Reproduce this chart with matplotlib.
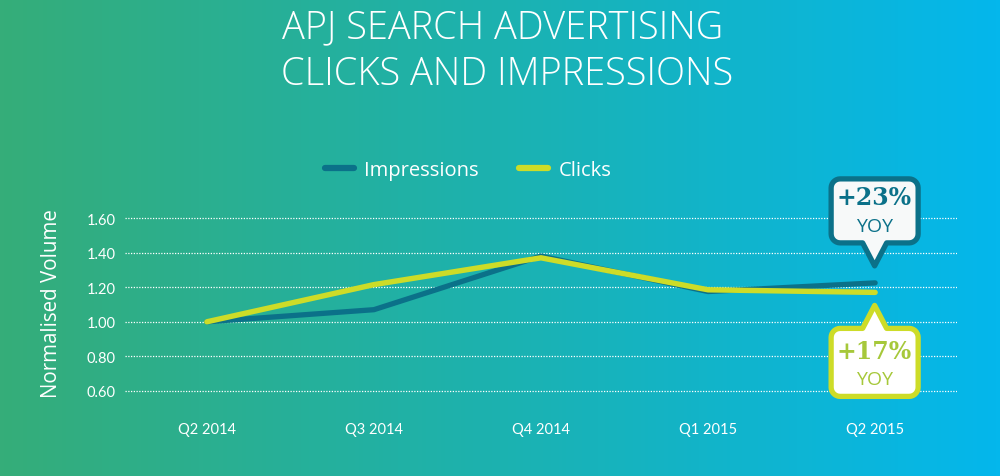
import numpy as np
import matplotlib
matplotlib.use("Agg")
import matplotlib.pyplot as plt
from matplotlib.colors import LinearSegmentedColormap
from matplotlib.patches import Polygon
from matplotlib.transforms import IdentityTransform

# ---- data ----
quarters = ["Q2 2014", "Q3 2014", "Q4 2014", "Q1 2015", "Q2 2015"]
impressions = [1.00, 1.07, 1.38, 1.175, 1.225]
clicks = [1.00, 1.215, 1.37, 1.185, 1.17]
yticks = [0.60, 0.80, 1.00, 1.20, 1.40, 1.60]
title_lines = ["APJ SEARCH ADVERTISING", "CLICKS AND IMPRESSIONS"]
callout_imp = ("+23%", "YOY")
callout_clk = ("+17%", "YOY")

IMP_C = "#0b7189"
CLK_C = "#cddc28"
CLK_TXT = "#a6c83a"
FONT = "Lato"
TFONT = "Open Sans"

W, H = 1000, 477
fig = plt.figure(figsize=(W / 100, H / 100), dpi=100)

# background gradient
bg = fig.add_axes([0, 0, 1, 1])
cmap = LinearSegmentedColormap.from_list("bg", ["#35ad79", "#1cb2b0", "#04b7ec"])
bg.imshow(np.linspace(0, 1, 256)[None, :], aspect="auto", cmap=cmap,
          extent=[0, 1, 0, 1])
bg.set_axis_off()

ax = fig.add_axes([0.125, (H - 400.6) / H, 0.832, 190.2 / H])
ax.patch.set_alpha(0)
x = np.arange(len(quarters))
ax.plot(x, impressions, color=IMP_C, lw=3.8, solid_capstyle="round",
        solid_joinstyle="round", label="Impressions", zorder=3)
ax.plot(x, clicks, color=CLK_C, lw=3.9, solid_capstyle="round",
        solid_joinstyle="round", label="Clicks", zorder=4)
ax.set_xlim(-0.49, 4.49)
ax.set_ylim(0.55, 1.65)
ax.set_yticks(yticks)
ax.set_yticklabels([f"{v:.2f}" for v in yticks])
ax.set_xticks(x)
ax.set_xticklabels(quarters)
for yv in yticks:
    ax.axhline(yv, color="white", lw=0.9, ls=(0, (1, 1.2)), zorder=1)
for s in ax.spines.values():
    s.set_visible(False)
ax.tick_params(axis="both", length=0, colors="white")
ax.tick_params(axis="y", pad=7, labelsize=10.5)
ax.tick_params(axis="x", pad=16, labelsize=10.5)
for lab in ax.get_xticklabels() + ax.get_yticklabels():
    lab.set_fontfamily(FONT)

leg = ax.legend(loc="center", bbox_to_anchor=(468 / W, 1 - 171 / H),
                bbox_transform=fig.transFigure, ncol=2, frameon=False,
                handlelength=1.45, columnspacing=2.0, handletextpad=0.5,
                prop={"family": TFONT, "size": 14.5})
for t in leg.get_texts():
    t.set_color("white")
for h in leg.get_lines():
    h.set_linewidth(4.5)
    h.set_solid_capstyle("round")

fig.text(0.052, 1 - 304 / H, "Normalised Volume", rotation=90, ha="center",
         va="center", color="white", fontsize=14.8, family=TFONT)

fig.text(0.503, 1 - 28 / H, title_lines[0], ha="center", va="center",
         color="white", fontsize=27.4, family=TFONT, fontweight=300)
fig.text(0.507, 1 - 75 / H, title_lines[1], ha="center", va="center",
         color="white", fontsize=27.4, family=TFONT, fontweight=300)


def rounded_box_with_pointer(cx, tip_y, w, h, r, pw, ph, down=True):
    """Vertices (display px) of a rounded box with a triangular pointer."""
    if down:
        bot = tip_y + ph
        top = bot + h
    else:
        top = tip_y - ph
        bot = top - h
    l, rr = cx - w / 2, cx + w / 2

    def arc(xc, yc, a0, a1):
        t = np.linspace(np.radians(a0), np.radians(a1), 8)
        return list(zip(xc + r * np.cos(t), yc + r * np.sin(t)))

    pts = []
    pts += arc(l + r, top - r, 180, 90)
    if not down:
        pts += [(cx - pw / 2, top), (cx, tip_y), (cx + pw / 2, top)]
    pts += arc(rr - r, top - r, 90, 0)
    pts += arc(rr - r, bot + r, 0, -90)
    if down:
        pts += [(cx + pw / 2, bot), (cx, tip_y), (cx - pw / 2, bot)]
    pts += arc(l + r, bot + r, -90, -180)
    return pts


fig.canvas.draw()
tr = ax.transData
px_imp = tr.transform((x[-1], impressions[-1]))
px_clk = tr.transform((x[-1], clicks[-1]))

# Impressions callout (above)
tip1 = (px_imp[0] - 1, px_imp[1] + 17)
verts1 = rounded_box_with_pointer(tip1[0] + 0.5, tip1[1], 87, 64, 9, 24, 23, down=True)
fig.patches.append(Polygon(verts1, closed=True, facecolor="#f7f9f9", edgecolor=IMP_C,
                           lw=3.8, joinstyle="round", transform=IdentityTransform(),
                           figure=fig, zorder=10))
fig.text(tip1[0] / W, (tip1[1] + 69) / H, callout_imp[0], ha="center", va="center",
         color=IMP_C, fontsize=17, family="DejaVu Serif", fontweight="bold", zorder=11)
fig.text(tip1[0] / W, (tip1[1] + 40) / H, callout_imp[1], ha="center", va="center",
         color=IMP_C, fontsize=14, family=TFONT, zorder=11)

# Clicks callout (below)
tip2 = (px_clk[0] - 1, px_clk[1] - 13)
verts2 = rounded_box_with_pointer(tip2[0] + 0.5, tip2[1], 87, 68, 9, 24, 23, down=False)
fig.patches.append(Polygon(verts2, closed=True, facecolor="white", edgecolor=CLK_C,
                           lw=3.8, joinstyle="round", transform=IdentityTransform(),
                           figure=fig, zorder=10))
fig.text(tip2[0] / W, (tip2[1] - 46) / H, callout_clk[0], ha="center", va="center",
         color=CLK_TXT, fontsize=17, family="DejaVu Serif", fontweight="bold", zorder=11)
fig.text(tip2[0] / W, (tip2[1] - 74) / H, callout_clk[1], ha="center", va="center",
         color=CLK_TXT, fontsize=14, family=TFONT, zorder=11)

fig.savefig("out.png", dpi=100)
